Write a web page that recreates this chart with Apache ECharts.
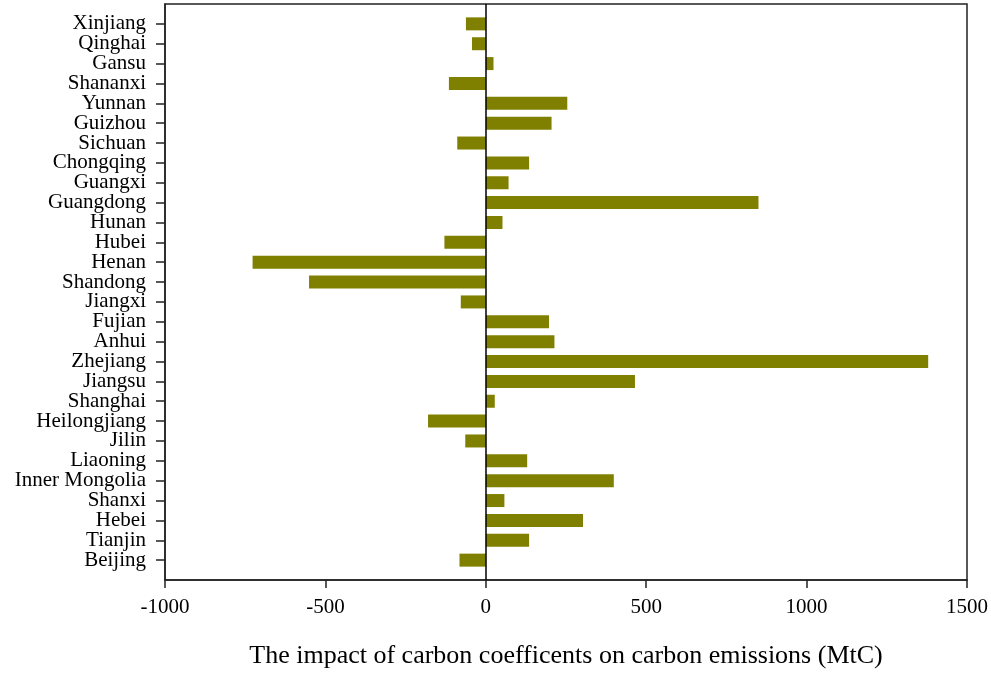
<!DOCTYPE html>
<html>
<head>
<meta charset="utf-8">
<script src="https://cdn.jsdelivr.net/npm/echarts@6/dist/echarts.min.js"></script>
<style>
html,body{margin:0;padding:0;background:#fff;}
#chart{width:991px;height:676px;}
</style>
</head>
<body>
<div id="chart"></div>
<script>
// Provinces, bottom to top
var provinces = ['Beijing','Tianjin','Hebei','Shanxi','Inner Mongolia','Liaoning','Jilin','Heilongjiang','Shanghai','Jiangsu','Zhejiang','Anhui','Fujian','Jiangxi','Shandong','Henan','Hubei','Hunan','Guangdong','Guangxi','Chongqing','Sichuan','Guizhou','Yunnan','Shananxi','Gansu','Qinghai','Xinjiang'];
var impactValues = [-82,135,303,58,399,129,-64,-180,28,465,1379,214,197,-78,-551,-727,-129,52,850,71,135,-89,205,254,-115,24,-43,-62];
var xTicks = [-1000,-500,0,500,1000,1500];
var xAxisTitle = 'The impact of carbon coefficents on carbon emissions (MtC)';

// one empty slot below and above so the bars sit a full step from the frame
var axisCats = [''].concat(provinces).concat(['']);
var axisVals = [null].concat(impactValues).concat([null]);

var chart = echarts.init(document.getElementById('chart'));
var font = '"Liberation Serif","Times New Roman",serif';
chart.setOption({
  animation:false,
  backgroundColor:'#fff',
  grid:{left:165,right:24,top:4,bottom:96,show:true,borderColor:'#222',borderWidth:1.5,containLabel:false},
  xAxis:{
    type:'value',min:xTicks[0],max:xTicks[xTicks.length-1],interval:500,
    name:xAxisTitle,nameLocation:'middle',nameGap:63,
    nameTextStyle:{fontFamily:font,fontSize:26,color:'#000'},
    axisLine:{show:true,onZero:false,lineStyle:{color:'#222',width:1.5}},
    axisTick:{show:true,length:8,inside:false,lineStyle:{color:'#222',width:1.5}},
    axisLabel:{fontFamily:font,fontSize:21,color:'#000',margin:17,
      formatter:function(v){return String(v);}},
    splitLine:{show:false}
  },
  yAxis:{
    type:'category',data:axisCats,boundaryGap:false,
    axisLine:{show:true,onZero:false,lineStyle:{color:'#222',width:1.5}},
    axisTick:{show:true,length:9,lineStyle:{color:'#222',width:1.5},
      interval:function(i){return i>0 && i<axisCats.length-1;}},
    axisLabel:{fontFamily:font,fontSize:21,color:'#000',margin:19,interval:0},
    splitLine:{show:false}
  },
  series:[{
    type:'bar',data:axisVals,barWidth:13,
    itemStyle:{color:'#808000'},
    markLine:{silent:true,symbol:'none',label:{show:false},
      lineStyle:{color:'#000',width:1.5,type:'solid'},
      data:[{xAxis:0}]}
  }]
});
</script>
</body>
</html>
